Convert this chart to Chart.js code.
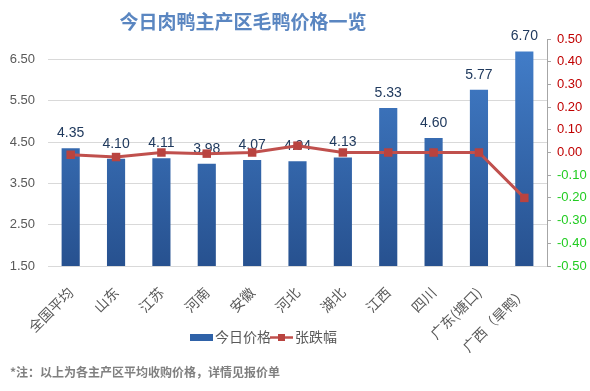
<!DOCTYPE html>
<html>
<head>
<meta charset="utf-8">
<script src="https://cdn.jsdelivr.net/npm/chart.js@4.4.1/dist/chart.umd.min.js"></script>
<style>
html,body{margin:0;padding:0;background:#fff;}
#wrap{width:590px;height:391px;position:relative;}
</style>
</head>
<body>
<div id="wrap"><canvas id="c" width="590" height="391"></canvas></div>
<script>
const categories = ['全国平均','山东','江苏','河南','安徽','河北','湖北','江西','四川','广东(塘口)','广西（旱鸭）'];
const prices = [4.35, 4.10, 4.11, 3.98, 4.07, 4.04, 4.13, 5.33, 4.60, 5.77, 6.70];
const changes = [-0.01, -0.02, 0.00, -0.005, 0.00, 0.03, 0.00, 0.00, 0.00, 0.00, -0.20];
const leftTicks = [1.5, 2.5, 3.5, 4.5, 5.5, 6.5];
const titleText = '今日肉鸭主产区毛鸭价格一览';
const footText = '*注：以上为各主产区平均收购价格，详情见报价单';
const seriesNames = ['今日价格', '张跌幅'];

const FONT = "'Liberation Sans', 'Noto Sans CJK SC', sans-serif";
const CJK = "'Noto Sans CJK SC', 'Liberation Sans', sans-serif";
const LINE_COLOR = '#C0504D';

const extras = {
  id: 'extras',
  beforeDraw(chart) {
    const ctx = chart.ctx;
    ctx.save();
    ctx.fillStyle = '#fff';
    ctx.fillRect(0, 0, chart.width, chart.height);
    ctx.restore();
  },
  afterDatasetDraw(chart, args) {
    if (args.index !== 1) return;
    const ctx = chart.ctx;
    const meta = chart.getDatasetMeta(1);
    ctx.save();
    ctx.font = '14px ' + FONT;
    ctx.fillStyle = '#203A5E';
    ctx.textAlign = 'center';
    ctx.textBaseline = 'middle';
    meta.data.forEach((el, i) => {
      ctx.fillText(prices[i].toFixed(2), el.x, el.y - 15);
    });
    ctx.restore();
  },
  afterDraw(chart) {
    const ctx = chart.ctx;
    ctx.save();
    // title
    ctx.font = 'bold 19px ' + CJK;
    ctx.fillStyle = '#5A86C1';
    ctx.textAlign = 'center';
    ctx.textBaseline = 'middle';
    ctx.fillText(titleText, 243, 22);
    // legend
    const ly = 337;
    ctx.fillStyle = '#2F62A8';
    ctx.fillRect(190, ly - 3, 23, 7);
    ctx.font = '14px ' + CJK;
    ctx.fillStyle = '#595959';
    ctx.textAlign = 'left';
    ctx.fillText(seriesNames[0], 215, ly);
    ctx.strokeStyle = LINE_COLOR;
    ctx.lineWidth = 2.5;
    ctx.beginPath();
    ctx.moveTo(270, ly + 0.5);
    ctx.lineTo(293, ly + 0.5);
    ctx.stroke();
    ctx.fillStyle = '#B9433F';
    ctx.fillRect(278, ly - 3, 7, 7);
    ctx.fillStyle = '#595959';
    ctx.fillText(seriesNames[1], 295, ly);
    // footnote
    ctx.font = 'bold 12px ' + CJK;
    ctx.fillStyle = '#808080';
    ctx.fillText(footText, 10, 372);
    ctx.restore();
  }
};

const ctx = document.getElementById('c').getContext('2d');
new Chart(ctx, {
  data: {
    labels: categories,
    datasets: [
      {
        type: 'line',
        label: seriesNames[1],
        data: changes,
        yAxisID: 'y1',
        order: 0,
        borderColor: LINE_COLOR,
        borderWidth: 3,
        pointStyle: 'rect',
        pointRadius: 6,
        pointBackgroundColor: '#B9433F',
        pointBorderColor: '#B9433F',
        pointBorderWidth: 0,
        tension: 0
      },
      {
        type: 'bar',
        label: seriesNames[0],
        data: prices,
        yAxisID: 'y',
        order: 1,
        categoryPercentage: 1.0,
        barPercentage: 0.4,
        backgroundColor(c) {
          const ca = c.chart.chartArea;
          if (!ca) return '#3570B8';
          const g = c.chart.ctx.createLinearGradient(0, ca.top, 0, ca.bottom);
          g.addColorStop(0, '#437FCB');
          g.addColorStop(1, '#27518F');
          return g;
        }
      }
    ]
  },
  options: {
    responsive: false,
    animation: false,
    devicePixelRatio: 1,
    layout: { padding: { top: 39, left: 0, right: 0, bottom: 0 } },
    plugins: { legend: { display: false }, tooltip: { enabled: false }, title: { display: false } },
    scales: {
      x: {
        afterFit(s) { s.height = 125; },
        grid: { display: false, drawTicks: false },
        border: { display: true, color: '#D9D9D9' },
        ticks: {
          minRotation: 45, maxRotation: 45, autoSkip: false,
          padding: 18,
          color: '#595959',
          font: { family: CJK, size: 14 }
        }
      },
      y: {
        position: 'left',
        min: 1.5, max: 7.0,
        afterFit(s) { s.width = 48; },
        afterBuildTicks(s) { s.ticks = leftTicks.map(v => ({ value: v })); },
        grid: { color: '#D9D9D9', drawTicks: false },
        border: { display: false },
        ticks: {
          padding: 13,
          color: '#595959',
          font: { family: FONT, size: 13 },
          callback: v => Number(v).toFixed(2)
        }
      },
      y1: {
        position: 'right',
        min: -0.5, max: 0.5,
        afterFit(s) { s.width = 43; },
        grid: { drawOnChartArea: false, drawTicks: true, tickLength: 4, color: '#A6A6A6' },
        border: { display: true, color: '#A6A6A6' },
        ticks: {
          stepSize: 0.1,
          padding: 6,
          font: { family: FONT, size: 13 },
          color: c => (c.tick && c.tick.value < -0.001) ? '#22CC22' : '#C00000',
          callback: v => { const n = Math.round(v * 100) / 100; return (Object.is(n, -0) ? 0 : n).toFixed(2); }
        }
      }
    }
  },
  plugins: [extras]
});
</script>
</body>
</html>
